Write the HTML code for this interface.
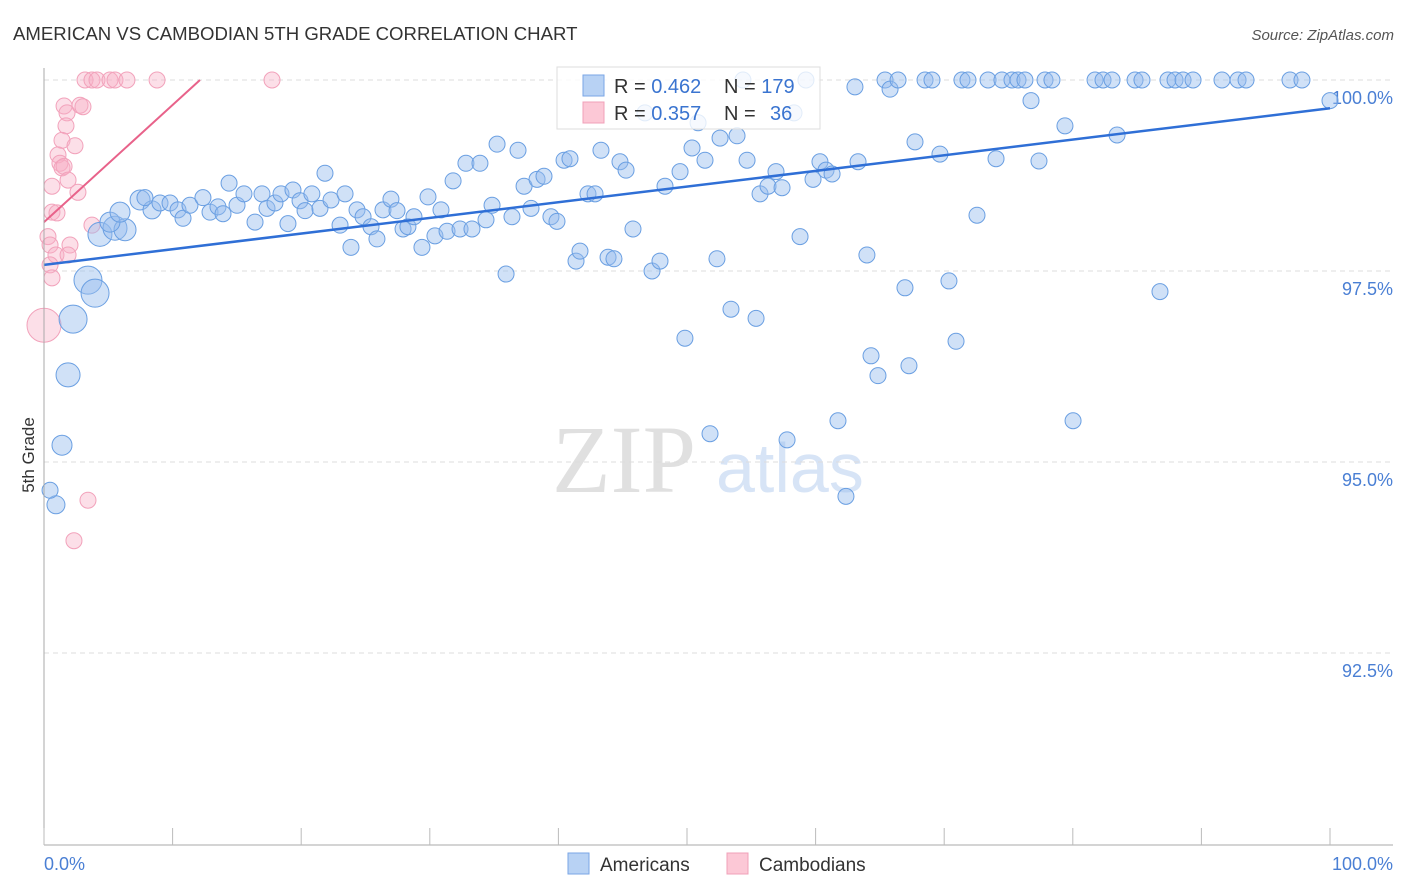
<!DOCTYPE html>
<html><head><meta charset="utf-8">
<style>
body{margin:0;background:#fff;font-family:"Liberation Sans",sans-serif}
svg{display:block}
</style></head>
<body>
<svg id="c" width="1406" height="892">
<text x="13" y="40" font-size="18.6" fill="#333">AMERICAN VS CAMBODIAN 5TH GRADE CORRELATION CHART</text>
<text x="1394" y="40" font-size="15" fill="#555" font-style="italic" text-anchor="end">Source: ZipAtlas.com</text>
<text x="34" y="455" font-size="17" fill="#333" transform="rotate(-90 34 455)" text-anchor="middle">5th Grade</text>
<g opacity="0.45">
<text x="552" y="492" font-family="Liberation Serif,serif" font-size="96" fill="#bbb">ZIP</text>
<text x="716" y="492" font-size="70" fill="#a8c4ec">atlas</text>
</g>
<g id="grid"></g><g id="pts"></g><g id="lines"></g><g id="axes"></g>
<g>
<rect x="557" y="67" width="263" height="62" fill="#fff" fill-opacity="0.8" stroke="#ddd"/>
<rect x="583" y="75" width="21" height="21" fill="#b8d2f4" stroke="#7aa6e6"/>
<rect x="583" y="102" width="21" height="21" fill="#fcc8d6" stroke="#f0a0b8"/>
<text x="614" y="93" font-size="20" fill="#333">R = <tspan fill="#3a74d0">0.462</tspan><tspan x="724">N = </tspan><tspan fill="#3a74d0">179</tspan></text>
<text x="614" y="120" font-size="20" fill="#333">R = <tspan fill="#3a74d0">0.357</tspan><tspan x="724">N = </tspan><tspan fill="#3a74d0" x="770">36</tspan></text>
</g>
<g>
<rect x="568" y="853" width="21" height="21" fill="#b8d2f4" stroke="#7aa6e6"/>
<text x="600" y="871" font-size="19" fill="#333">Americans</text>
<rect x="727" y="853" width="21" height="21" fill="#fcc8d6" stroke="#f0a0b8"/>
<text x="759" y="871" font-size="19" fill="#333">Cambodians</text>
</g>
</svg>
<script>
const yTicks=[100,97.5,95,92.5];
const yTickLabels=["100.0%","97.5%","95.0%","92.5%"];
const xTickCount=10;
const amX=[4.35,3.42,3.97,2.26,1.87,1.40,0.93,0.47,5.52,6.30,5.13,5.91,7.47,8.40,7.85,9.02,9.80,10.42,10.81,11.35,12.36,12.91,13.53,13.92,14.39,15.01,15.55,16.41,16.95,17.34,17.96,18.43,18.97,19.36,19.91,20.30,20.83,21.46,21.85,22.32,23.02,23.41,23.87,24.34,24.81,25.43,25.89,26.36,26.98,27.45,27.92,28.30,28.77,29.39,29.86,30.40,30.87,31.34,31.81,32.35,32.81,33.28,33.90,34.37,34.84,35.23,35.93,36.39,36.86,37.33,37.87,38.34,38.88,39.42,39.89,40.44,40.90,41.37,41.68,42.30,42.85,43.31,43.86,44.32,44.79,45.26,45.80,46.73,47.28,47.90,48.29,49.46,49.84,50.39,50.86,51.40,51.79,52.33,52.57,53.42,53.89,54.35,54.67,55.37,55.68,56.30,56.92,57.39,57.78,58.32,58.79,59.25,59.80,60.34,60.81,61.28,61.74,62.36,63.06,63.30,63.99,64.31,64.85,65.40,65.79,66.41,66.95,67.26,67.73,68.51,69.05,69.67,70.37,70.92,71.38,71.85,72.55,73.41,74.03,74.49,75.27,75.74,76.28,76.75,77.37,77.84,78.38,79.39,80.02,81.73,82.35,83.05,83.44,84.84,85.38,86.78,87.40,87.95,88.57,89.35,91.60,92.85,93.47,96.89,97.82,100];
const amY=[97.98,97.38,97.21,96.87,96.14,95.22,94.44,94.63,98.06,98.04,98.14,98.27,98.43,98.30,98.46,98.39,98.39,98.30,98.19,98.36,98.46,98.27,98.34,98.25,98.65,98.36,98.51,98.14,98.51,98.32,98.39,98.51,98.12,98.56,98.42,98.29,98.51,98.32,98.78,98.43,98.10,98.51,97.81,98.30,98.21,98.08,97.92,98.30,98.44,98.29,98.05,98.08,98.21,97.81,98.47,97.96,98.30,98.02,98.68,98.05,98.91,98.05,98.91,98.17,98.36,99.16,97.46,98.21,99.08,98.61,98.32,98.70,98.74,98.21,98.15,98.95,98.97,97.63,97.76,98.51,98.51,99.08,97.68,97.66,98.93,98.82,98.05,99.57,97.50,97.63,98.61,98.80,96.62,99.11,99.44,98.95,95.37,97.66,99.24,97.00,99.27,100,98.95,96.88,98.51,98.61,98.80,98.59,95.29,99.57,97.95,100,98.70,98.93,98.82,98.77,95.54,94.55,99.91,98.93,97.71,96.39,96.13,100,99.88,100,97.28,96.26,99.19,100,100,99.03,97.37,96.58,100,100,98.23,100,98.97,100,100,100,100,99.73,98.94,100,100,99.40,95.54,100,100,100,99.28,100,100,97.23,100,100,100,100,100,100,100,100,100,99.73];
const amSize=[12,14,14,14,12,10,9,8,12,11,10,10,10,9];
const caX=[0,3.19,3.73,4.12,5.13,5.52,6.45,8.79,17.73,1.56,1.79,2.80,3.03,1.71,1.40,1.09,2.41,1.24,1.40,1.56,1.87,0.62,2.64,0.62,1.01,3.73,0.31,0.47,2.02,0.93,1.87,0.47,0.62,3.42,2.33];
const caY=[96.79,100,100,100,100,100,100,100,100,99.66,99.57,99.67,99.65,99.40,99.21,99.02,99.14,98.91,98.85,98.87,98.69,98.61,98.53,98.27,98.26,98.10,97.95,97.84,97.84,97.71,97.71,97.58,97.41,94.50,93.97];
const caSize=[17];
const amTrend=[[0,97.58],[100,99.63]];
const caTrend=[[0,98.14],[12.13,100]];
const NS="http://www.w3.org/2000/svg";
const X=v=>44+v*12.86, Y=v=>80+(100-v)*76.4;
function mk(tag,attrs,parent){const e=document.createElementNS(NS,tag);for(const k in attrs)e.setAttribute(k,attrs[k]);document.getElementById(parent).appendChild(e);return e;}
yTicks.forEach((t,i)=>{
 const l=mk('line',{x1:44,x2:1393,y1:Y(t),y2:Y(t),stroke:'#ddd','stroke-dasharray':'5,4'},'grid');
 
 
 const tx=mk('text',{x:1393,y:Y(t)+24,'font-size':18,fill:'#4a7fd4','text-anchor':'end'},'grid');
 tx.textContent=yTickLabels[i];
 
 
});
const ax=mk('line',{x1:44,x2:44,y1:68,y2:845,stroke:'#aaa'},'axes');


const bx=mk('line',{x1:44,x2:1393,y1:845,y2:845,stroke:'#aaa'},'axes');


for(let i=0;i<=xTickCount;i++){
 const t=mk('line',{x1:X(i*10),x2:X(i*10),y1:828,y2:845,stroke:'#bbb'},'axes');
 
 
}
const xl=mk('text',{x:44,y:870,'font-size':18,fill:'#4a7fd4'},'axes');xl.textContent='0.0%';


const xr=mk('text',{x:1393,y:870,'font-size':18,fill:'#4a7fd4','text-anchor':'end'},'axes');xr.textContent='100.0%';


caX.forEach((v,i)=>{
 const c=mk('circle',{cx:X(v),cy:Y(caY[i]),r:caSize[i]||8,fill:'rgba(248,175,198,0.4)',stroke:'#f2a2bb','stroke-width':1},'pts');
 
 
});
amX.forEach((v,i)=>{
 const c=mk('circle',{cx:X(v),cy:Y(amY[i]),r:amSize[i]||8,fill:'rgba(150,188,238,0.45)',stroke:'#6a9fe2','stroke-width':1},'pts');
 
 
});
const l1=mk('line',{x1:X(amTrend[0][0]),y1:Y(amTrend[0][1]),x2:X(amTrend[1][0]),y2:Y(amTrend[1][1]),stroke:'#2f6fd6','stroke-width':2.5},'lines');


const l2=mk('line',{x1:X(caTrend[0][0]),y1:Y(caTrend[0][1]),x2:X(caTrend[1][0]),y2:Y(caTrend[1][1]),stroke:'#e8628a','stroke-width':2},'lines');


</script>
</body></html>
